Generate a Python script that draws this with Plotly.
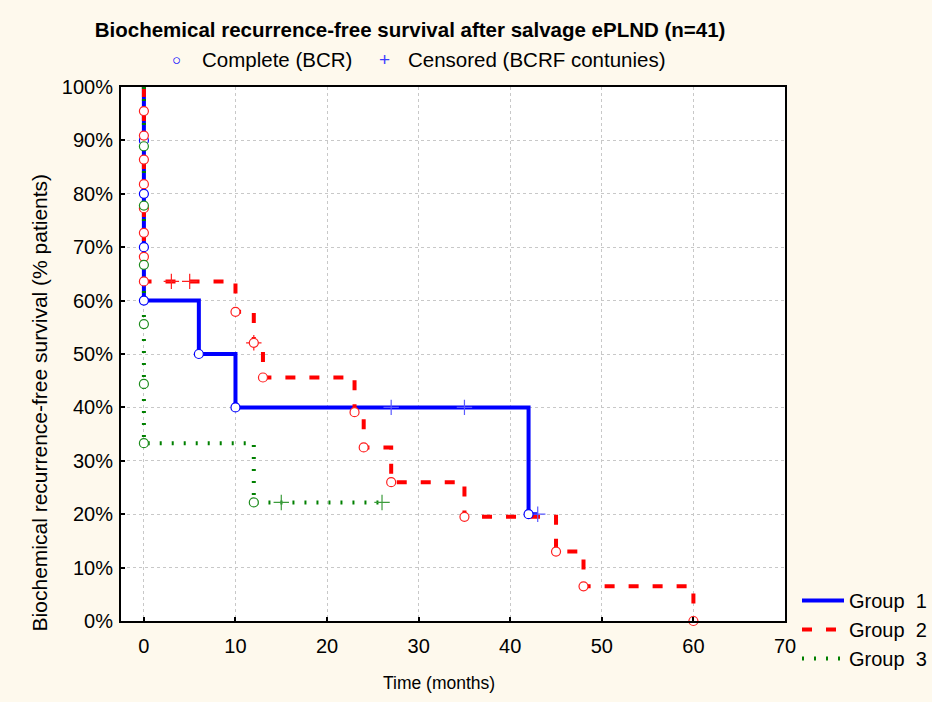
"""Kaplan-Meier curves: biochemical recurrence-free survival after salvage ePLND."""

import plotly.graph_objects as go

# ---- data -------------------------------------------------------------
# step curves (time in months, survival in %)
g1_time = [0, 0, 0, 0, 0, 6, 10, 42, 43]
g1_surv = [100, 90, 80, 70, 60, 50, 40, 20, 20]
g1_event_time = [0, 0, 0, 0, 6, 10, 42]
g1_event_surv = [90, 80, 70, 60, 50, 40, 20]
g1_cens_time = [27, 35, 43]
g1_cens_surv = [40, 40, 20]

g2_time = [0, 0, 0, 0, 0, 0, 0, 0, 0, 10, 12, 13, 23, 24, 27, 35, 45, 48, 60]
g2_surv = [100, 95.5, 90.9, 86.4, 81.8, 77.3, 72.7, 68.2, 63.6,
           57.9, 52.1, 45.6, 39.1, 32.5, 26.0, 19.5, 13.0, 6.5, 0]
g2_event_time = [0, 0, 0, 0, 0, 0, 0, 0, 10, 12, 13, 23, 24, 27, 35, 45, 48, 60]
g2_event_surv = [95.5, 90.9, 86.4, 81.8, 77.3, 72.7, 68.2, 63.6,
                 57.9, 52.1, 45.6, 39.1, 32.5, 26.0, 19.5, 13.0, 6.5, 0]
g2_cens_time = [3, 5, 12]
g2_cens_surv = [63.6, 63.6, 52.1]

g3_time = [0, 0, 0, 0, 0, 0, 0, 12, 26]
g3_surv = [100, 88.9, 77.8, 66.7, 55.6, 44.4, 33.3, 22.2, 22.2]
g3_event_time = [0, 0, 0, 0, 0, 0, 12]
g3_event_surv = [88.9, 77.8, 66.7, 55.6, 44.4, 33.3, 22.2]
g3_cens_time = [15, 26]
g3_cens_surv = [22.2, 22.2]

x_ticks = [0, 10, 20, 30, 40, 50, 60, 70]
y_ticks = [0, 10, 20, 30, 40, 50, 60, 70, 80, 90, 100]
y_tick_labels = ["0%", "10%", "20%", "30%", "40%", "50%", "60%", "70%",
                 "80%", "90%", "100%"]

FONT = "Liberation Sans, Arial, sans-serif"
BG = "#FEF9ED"

groups = [
    ("Group\u00a0\u00a01", g1_time, g1_surv, g1_event_time, g1_event_surv,
     g1_cens_time, g1_cens_surv,
     {"color": "#0000FF", "width": 4}, "#0000FF", "#5A5AFF"),
    ("Group\u00a0\u00a02", g2_time, g2_surv, g2_event_time, g2_event_surv,
     g2_cens_time, g2_cens_surv,
     {"color": "#FF0000", "width": 4, "dash": "10px,14px"}, "#FF2020", "#FF2020"),
    ("Group\u00a0\u00a03", g3_time, g3_surv, g3_event_time, g3_event_surv,
     g3_cens_time, g3_cens_surv,
     {"color": "#008000", "width": 4, "dash": "2px,10px"}, "#1E8C1E", "#3C9C3C"),
]

fig = go.Figure()

for name, t, s, *_rest, line, _, _ in groups:
    fig.add_trace(
        go.Scatter(
            x=t,
            y=s,
            mode="lines",
            name=name,
            line={**line, "shape": "hv"},
            cliponaxis=False,
        )
    )

for name, _, _, et, es, ct, cs, _, ecol, ccol in groups:
    fig.add_trace(
        go.Scatter(
            x=ct,
            y=cs,
            mode="markers",
            showlegend=False,
            marker={"symbol": "cross-thin", "size": 11,
                    "line": {"color": ccol, "width": 1.2}},
            cliponaxis=False,
        )
    )
    fig.add_trace(
        go.Scatter(
            x=et,
            y=es,
            mode="markers",
            showlegend=False,
            marker={"symbol": "circle", "size": 9, "color": "white",
                    "line": {"color": ecol, "width": 1.2}},
            cliponaxis=False,
        )
    )

axis_common = dict(
    showline=True,
    linecolor="black",
    linewidth=2,
    mirror=True,
    ticks="inside",
    ticklen=4,
    tickwidth=2,
    tickcolor="black",
    showgrid=True,
    gridcolor="#C8C8C8",
    griddash="dot",
    gridwidth=1,
    zeroline=False,
    tickfont={"family": FONT, "size": 20, "color": "black"},
)

fig.update_xaxes(
    range=[-2.5, 70],
    tickvals=x_ticks,
    ticklabelstandoff=6,
    **axis_common,
)
fig.update_yaxes(
    range=[0, 100],
    tickvals=y_ticks,
    ticktext=y_tick_labels,
    ticklabelstandoff=2,
    **axis_common,
)

annotations = [
    dict(text="Time (months)", x=0.479, y=-0.117, xanchor="center",
         yanchor="middle", showarrow=False,
         font={"family": FONT, "size": 17.5, "color": "black"}),
    dict(text="Biochemical recurrence-free survival (% patients)",
         x=-0.123, y=0.41, textangle=-90, xanchor="center", yanchor="middle",
         showarrow=False, font={"family": FONT, "size": 21, "color": "black"}),
    dict(text="○", x=0.0832, y=1.0506, xanchor="center", yanchor="middle",
         showarrow=False, font={"family": FONT, "size": 15, "color": "#0000FF"}),
    dict(text="Complete (BCR)", x=0.1194, y=1.0506, xanchor="left",
         yanchor="middle", showarrow=False,
         font={"family": FONT, "size": 20.5, "color": "black"}),
    dict(text="+", x=0.3964, y=1.0506, xanchor="center", yanchor="middle",
         showarrow=False, font={"family": FONT, "size": 19, "color": "#3C3CFF"}),
    dict(text="Censored (BCRF contunies)", x=0.4294, y=1.0506, xanchor="left",
         yanchor="middle", showarrow=False,
         font={"family": FONT, "size": 20.5, "color": "black"}),
]
for a in annotations:
    a.update(xref="paper", yref="paper")

fig.update_layout(
    width=932,
    height=702,
    margin={"l": 121, "r": 147, "t": 87, "b": 81, "autoexpand": False},
    paper_bgcolor=BG,
    plot_bgcolor="white",
    title={
        "text": "<b>Biochemical recurrence-free survival after salvage ePLND (n=41)</b>",
        "x": 0.4354,
        "xref": "paper",
        "xanchor": "center",
        "y": 1 - 30 / 702,
        "yanchor": "middle",
        "font": {"family": FONT, "size": 20.5, "color": "black"},
    },
    legend={
        "x": 797 / 932,
        "xref": "container",
        "y": 0.075,
        "xanchor": "left",
        "yanchor": "top",
        "bgcolor": "rgba(0,0,0,0)",
        "font": {"family": FONT, "size": 20, "color": "black"},
        "tracegroupgap": 0,
        "itemwidth": 42,
    },
    annotations=annotations,
)

fig.write_html(
    "out.html",
    config={"displayModeBar": False},
    post_script="document.body.style.margin = '0';",
)
